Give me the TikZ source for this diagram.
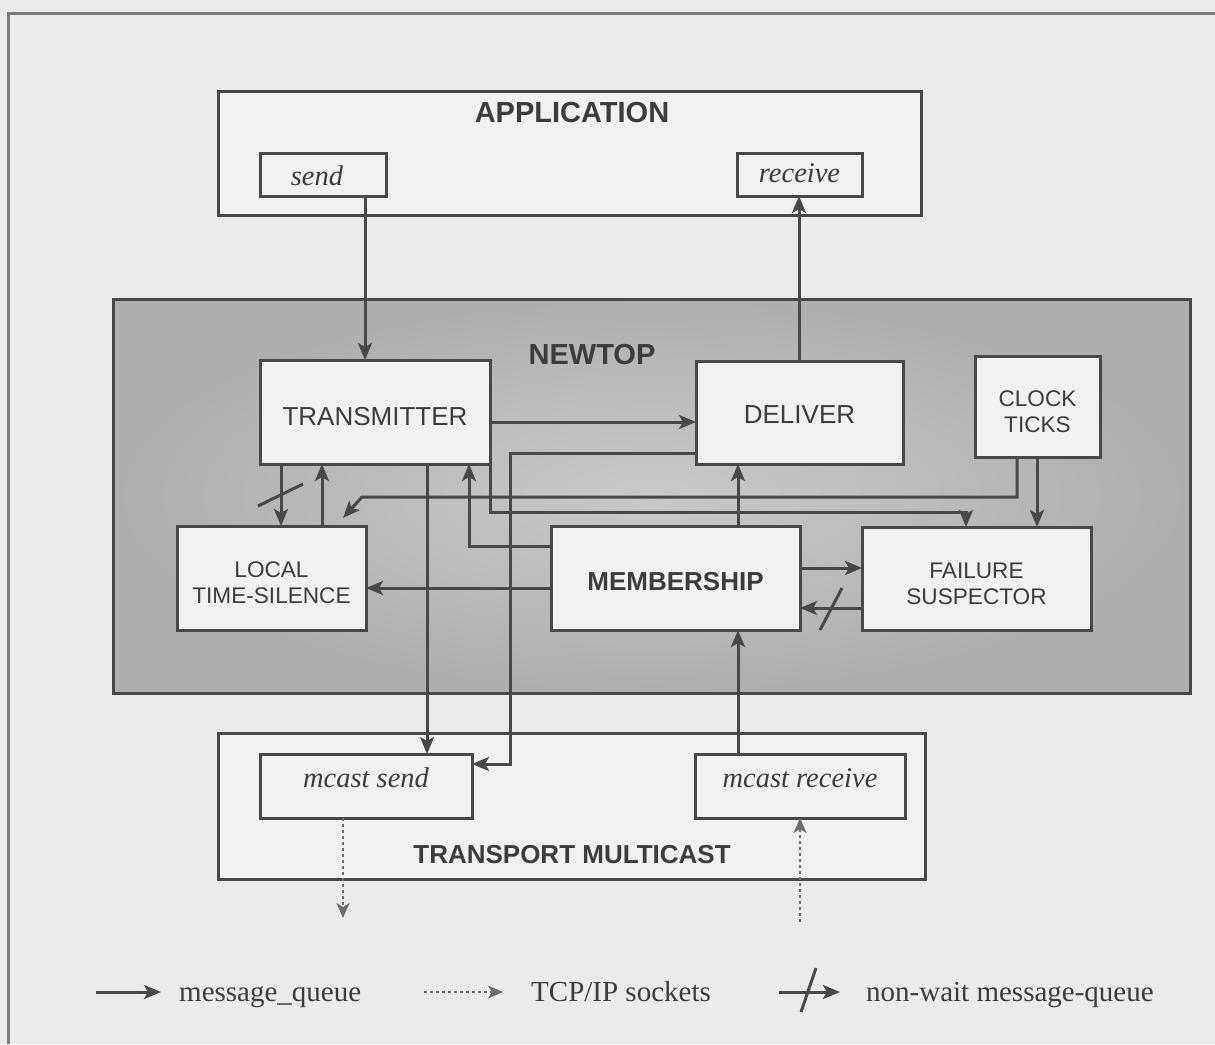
\documentclass[tikz,border=0pt]{standalone}
\usepackage{fontspec}
\setmainfont{Liberation Serif}
\setsansfont{Liberation Sans}
\usetikzlibrary{arrows.meta,calc}
\definecolor{bg}{HTML}{EBEBEB}
\definecolor{ln}{HTML}{484848}
\definecolor{frm}{HTML}{7A7A7A}
\definecolor{boxfill}{HTML}{F1F1F1}
\definecolor{txt}{HTML}{3C3C3C}
\definecolor{ntouter}{HTML}{AEAEAE}
\definecolor{ntinner}{HTML}{C9C9C9}
\pgfdeclarelayer{bglayer}
\pgfsetlayers{bglayer,main}
\begin{document}
\begin{tikzpicture}[x=1pt,y=-1pt,
  box/.style={draw=ln, line width=3pt, fill=boxfill, inner sep=0pt, outer sep=0pt, text=txt, align=center},
  big/.style={font=\sffamily\fontsize{26}{30}\selectfont},
  small/.style={font=\sffamily\fontsize{22.6}{26}\selectfont},
  bold/.style={font=\sffamily\bfseries\fontsize{26}{30}\selectfont},
  ital/.style={font=\itshape\fontsize{28.5}{32}\selectfont},
  title/.style={text=txt, inner sep=0pt, font=\sffamily\bfseries\fontsize{29}{32}\selectfont},
  legtxt/.style={text=txt, inner sep=0pt, font=\fontsize{29}{32}\selectfont},
  arr/.style={draw=ln, line width=3pt, -{Stealth[length=17pt,width=14pt,inset=4pt]}},
  slash/.style={draw=ln, line width=3pt},
  dot/.style={draw=ln!80, line width=1.8pt, dash pattern=on 3pt off 3pt, -{Stealth[length=15pt,width=13pt,inset=4pt]}}
]
\useasboundingbox (0,0) rectangle (1215,1044);
\begin{pgfonlayer}{bglayer}
\fill[bg] (0,0) rectangle (1215,1044);
\draw[frm, line width=3pt] (8,1044) -- (8,13) -- (1215,13);
\node[draw=ln, line width=3pt, inner sep=0pt, outer sep=0pt, inner color=ntinner, outer color=ntouter,
      minimum width=1077pt, minimum height=394pt] (newtop) at (651.5,496) {};
\end{pgfonlayer}

% guide coordinates
\coordinate (g281) at (281,0);
\coordinate (g322) at (322,0);
\coordinate (g343) at (343,0);
\coordinate (g362) at (362,0);
\coordinate (g365) at (365,0);
\coordinate (g427) at (427,0);
\coordinate (g469) at (469,0);
\coordinate (g510) at (510,0);
\coordinate (g738) at (738,0);
\coordinate (g799) at (799,0);
\coordinate (g800) at (800,0);
\coordinate (g966) at (966,0);
\coordinate (g1017) at (1017,0);
\coordinate (g1037) at (1037,0);
\coordinate (h422) at (0,422);
\coordinate (h453) at (0,453);
\coordinate (h497) at (0,497);
\coordinate (h512) at (0,512);
\coordinate (h546) at (0,546);
\coordinate (h568) at (0,568);
\coordinate (h588) at (0,588);
\coordinate (h608) at (0,608);
\coordinate (h764) at (0,764);

% outer layers
\node[box, minimum width=703pt, minimum height=124pt] (app) at (569.5,153) {};
\node[title] (applbl) at (572,113) {APPLICATION};
\node[box, ital, text height=23pt, text width=126pt, minimum width=126pt, minimum height=43pt] (send) at (323,174.5) {\hspace*{-12pt}send};
\node[box, ital, text height=17pt, minimum width=125pt, minimum height=43pt] (receive) at (799.5,174.5) {receive};
\node[title] (ntlbl) at (592,355) {NEWTOP};
\node[box, minimum width=707pt, minimum height=146pt] (transport) at (571.5,806) {};
\node[title, font=\sffamily\bfseries\fontsize{26}{30}\selectfont] (trlbl) at (572,855) {TRANSPORT MULTICAST};

% NEWTOP components
\node[box, big, text height=28pt, minimum width=230pt, minimum height=104pt] (trans) at (375,412) {TRANSMITTER};
\node[box, big, text height=21pt, minimum width=207pt, minimum height=103pt] (deliver) at (799.5,412.5) {DELIVER};
\node[box, small, minimum width=125pt, minimum height=101pt] (clock) at (1037.5,406.5) {\rule{0pt}{27pt}CLOCK\\TICKS};
\node[box, small, minimum width=189pt, minimum height=104pt] (local) at (271.5,578) {\rule{0pt}{26pt}LOCAL\\TIME-SILENCE};
\node[box, bold, text height=24.5pt, minimum width=249pt, minimum height=104pt] (member) at (675.5,578) {MEMBERSHIP};
\node[box, small, minimum width=229pt, minimum height=103pt] (failure) at (976.5,578.5) {\rule{0pt}{25.5pt}FAILURE\\SUSPECTOR};
\node[box, ital, text depth=16pt, minimum width=212pt, minimum height=64pt] (msend) at (366,786) {mcast send};
\node[box, ital, text depth=16pt, minimum width=210pt, minimum height=64pt] (mreceive) at (800,786) {mcast receive};

% connectors
\draw[arr] (send.south -| g365) -- (trans.north -| g365);
\draw[arr] (deliver.north -| g799) -- (receive.south -| g799);
\draw[arr] (trans.east |- h422) -- (deliver.west |- h422);
\draw[arr] (trans.south -| g281) -- (local.north -| g281);
\draw[arr] (local.north -| g322) -- (trans.south -| g322);
\coordinate (clkend) at (343,518);
\draw[arr] (clock.south -| g1017) -- (g1017 |- h497) -- (g362 |- h497) -- (clkend);
\draw[arr] (clock.south -| g1037) -- (failure.north -| g1037);
\draw[arr] (trans.south east) -- (trans.south east |- h512) -- (g966 |- h512) -- (failure.north -| g966);
\draw[arr] (member.west |- h546) -- (g469 |- h546) -- (trans.south -| g469);
\draw[arr] (member.west |- h588) -- (local.east |- h588);
\draw[arr] (member.north -| g738) -- (deliver.south -| g738);
\draw[arr] (member.east |- h568) -- (failure.west |- h568);
\draw[arr] (failure.west |- h608) -- (member.east |- h608);
\draw[arr] (mreceive.north -| g738) -- (member.south -| g738);
\draw[arr] (trans.south -| g427) -- (msend.north -| g427);
\draw[arr] (deliver.west |- h453) -- (g510 |- h453) -- (g510 |- h764) -- (msend.east |- h764);
\coordinate (dotend) at (343,918);
\coordinate (dotstart) at (800,922);
\draw[dot] (msend.south -| g343) -- (dotend);
\draw[dot] (dotstart) -- (mreceive.south -| g800);

% non-wait slashes
\draw[slash] ($(trans.south -| g281)!0.5!(local.north -| g281)$) ++(-23,11) -- ++(45,-22);
\draw[slash] ($(failure.west |- h608)!0.5!(member.east |- h608)$) ++(-11,22) -- ++(22,-42);

% legend
\node[legtxt, anchor=base west] (lg1) at (179,1001) {message\_queue};
\node[legtxt, anchor=base west] (lg2) at (531,1001) {TCP/IP sockets};
\node[legtxt, anchor=base west] (lg3) at (866,1001) {non-wait message-queue};
\coordinate (lg1s) at (96,992);
\coordinate (lg2s) at (424,992);
\coordinate (lg3s) at (779,992);
\draw[arr] (lg1s) -- ($(lg1.base west)+(-18,-9)$);
\draw[dot] (lg2s) -- ($(lg2.base west)+(-28,-9)$);
\draw[arr] (lg3s) -- ($(lg3.base west)+(-26,-9)$);
\draw[slash] (801,1012) -- (816,968);
\end{tikzpicture}
\end{document}
